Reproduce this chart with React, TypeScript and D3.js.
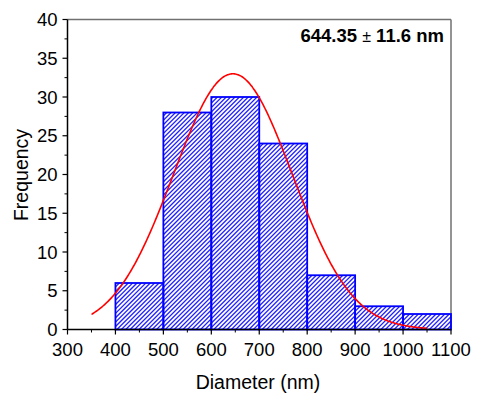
import React, { useEffect, useRef } from "react";
import * as d3 from "d3";

const binStarts = [400, 500, 600, 700, 800, 900, 1000];
const binWidth = 100;
const counts = [6, 28, 30, 24, 7, 3, 2];
const xTicks = [300, 400, 500, 600, 700, 800, 900, 1000, 1100];
const yTicks = [0, 5, 10, 15, 20, 25, 30, 35, 40];
const fitCenter = 645;
const fitSigma = 124;
const fitAmp = 33;
const fitRange = [350, 1050];
const annotation = "644.35";
const annotationErr = "11.6 nm";

export default function App() {
  const ref = useRef<SVGSVGElement>(null);
  useEffect(() => {
    const svg = d3.select(ref.current);
    svg.selectAll("*").remove();
    const W = 477, H = 396;
    const x = d3.scaleLinear().domain([300, 1100]).range([67.5, 451]);
    const y = d3.scaleLinear().domain([0, 40]).range([329.5, 19.5]);
    const font = "Arial, 'Liberation Sans', sans-serif";

    const defs = svg.append("defs");
    const clip = defs.append("clipPath").attr("id", "barsclip");
    clip.selectAll("rect").data(binStarts).join("rect")
      .attr("x", d => x(d))
      .attr("width", d => x(d + binWidth) - x(d))
      .attr("y", (d, i) => y(counts[i]))
      .attr("height", (d, i) => y(0) - y(counts[i]));

    // frame top/right
    svg.append("line").attr("x1", x(300)).attr("x2", x(1100)).attr("y1", y(40)).attr("y2", y(40))
      .attr("stroke", "#707070").attr("stroke-width", 1.3);
    svg.append("line").attr("x1", x(1100)).attr("x2", x(1100)).attr("y1", y(40)).attr("y2", y(0))
      .attr("stroke", "#707070").attr("stroke-width", 1.5);

    // hatch lines clipped to bars
    const x0 = x(400), x1 = x(1100), yTop = y(30), yBot = y(0);
    const span = yBot - yTop;
    const period = 4.4;
    const offsets = d3.range(x0 - span - 10, x1 + 10, period);
    svg.append("g").attr("clip-path", "url(#barsclip)").selectAll("line").data(offsets).join("line")
      .attr("x1", d => d).attr("y1", yBot + 2).attr("x2", d => d + span + 4).attr("y2", yTop - 2)
      .attr("stroke", "#2020ff").attr("stroke-width", 1.3);

    // bars outline
    svg.append("g").selectAll("rect").data(binStarts).join("rect")
      .attr("x", d => x(d))
      .attr("width", d => x(d + binWidth) - x(d))
      .attr("y", (d, i) => y(counts[i]))
      .attr("height", (d, i) => y(0) - y(counts[i]))
      .attr("fill", "none")
      .attr("stroke", "#0000ff").attr("stroke-width", 1.8);

    // fit curve
    const pts = d3.range(fitRange[0], fitRange[1] + 0.1, 2).map(v => [v, fitAmp * Math.exp(-((v - fitCenter) ** 2) / (2 * fitSigma ** 2))]);
    svg.append("path").attr("d", d3.line().x(d => x(d[0])).y(d => y(d[1])).curve(d3.curveBasis)(pts as any) as string)
      .attr("fill", "none").attr("stroke", "#ff0000").attr("stroke-width", 1.6);

    // axes
    const xAxis = svg.append("g").attr("transform", `translate(0,${y(0)})`);
    xAxis.append("line").attr("x1", x(300)).attr("x2", x(1100)).attr("stroke", "black").attr("stroke-width", 1.5);
    xAxis.selectAll(".maj").data(xTicks).join("line").attr("class", "maj")
      .attr("x1", d => x(d)).attr("x2", d => x(d)).attr("y1", 0).attr("y2", 5).attr("stroke", "black").attr("stroke-width", 1.2);
    xAxis.selectAll(".min").data(xTicks.slice(0, -1).map(d => d + 50)).join("line").attr("class", "min")
      .attr("x1", d => x(d)).attr("x2", d => x(d)).attr("y1", 0).attr("y2", 3).attr("stroke", "black").attr("stroke-width", 1);
    xAxis.selectAll("text").data(xTicks).join("text")
      .attr("x", d => x(d)).attr("y", 26.5).attr("text-anchor", "middle")
      .attr("font-family", font).attr("font-size", 18.5).text(d => d);

    const yAxis = svg.append("g").attr("transform", `translate(${x(300)},0)`);
    yAxis.append("line").attr("y1", y(0)).attr("y2", y(40)).attr("stroke", "black").attr("stroke-width", 1.5);
    yAxis.selectAll(".maj").data(yTicks).join("line").attr("class", "maj")
      .attr("y1", d => y(d)).attr("y2", d => y(d)).attr("x1", 0).attr("x2", -5).attr("stroke", "black").attr("stroke-width", 1.2);
    yAxis.selectAll(".min").data(yTicks.slice(0, -1).map(d => d + 2.5)).join("line").attr("class", "min")
      .attr("y1", d => y(d)).attr("y2", d => y(d)).attr("x1", 0).attr("x2", -3).attr("stroke", "black").attr("stroke-width", 1);
    yAxis.selectAll("text").data(yTicks).join("text")
      .attr("x", -10).attr("y", d => y(d)).attr("dy", "0.36em").attr("text-anchor", "end")
      .attr("font-family", font).attr("font-size", 18.5).text(d => d);

    svg.append("text").attr("x", 258).attr("y", 389).attr("text-anchor", "middle")
      .attr("font-family", font).attr("font-size", 19.5).text("Diameter (nm)");
    svg.append("text").attr("transform", `translate(27.5,175) rotate(-90)`).attr("text-anchor", "middle")
      .attr("font-family", font).attr("font-size", 19.5).text("Frequency");

    const t = svg.append("text").attr("x", 444).attr("y", 41.5).attr("text-anchor", "end")
      .attr("font-family", font).attr("font-size", 18.5).attr("font-weight", "bold");
    t.append("tspan").text(annotation + " ");
    t.append("tspan").attr("font-weight", "normal").attr("font-size", 16).text("±");
    t.append("tspan").text(" " + annotationErr);
    svg.attr("width", W).attr("height", H);
  }, []);
  return (
    <svg ref={ref} width={477} height={396} style={{ position: "absolute", left: 0, top: 0, background: "white" }} />
  );
}
